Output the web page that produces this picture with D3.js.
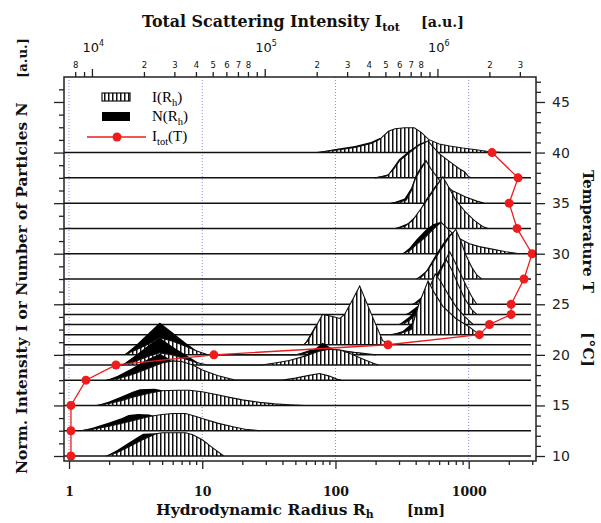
<!DOCTYPE html>
<html>
<head>
<meta charset="utf-8">
<script src="https://cdn.jsdelivr.net/npm/d3@7"></script>
<style>
  body { margin: 0; background: #fff; }
  svg { display: block; }
</style>
</head>
<body>
<div id="chart"></div>
<script>
// Step 1: data
// temperatures of the runs (right axis) and total scattering intensity (top axis)
var temps = [10, 12.5, 15, 17.5, 19, 20, 21, 22, 23, 24, 25, 27.5, 30, 32.5, 35, 37.5, 40];
var itot = [7560, 7560, 7560, 9230, 13770, 50800, 517000, 1750000, 2000000, 2670000, 2670000,
            3170000, 3530000, 2890000, 2600000, 2930000, 2070000];

// I(Rh) and N(Rh), pairs of [Rh nm, height a.u.]
var i10 = [[1.9,0],[2.3,0.35],[2.8,0.9],[3.5,1.55],[4.5,2.2],[5,2.3],[6,2.3],[7.5,2.3],[8.5,2.1],[10,1.6],[12,0.8],[14.5,0]];
var n10 = [[1.9,0],[2.3,0.6],[2.8,1.3],[3.3,1.9],[3.6,2.2],[4.5,2.25],[5,1.8],[6,1.0],[8,0.3],[10,0]];
var i12 = [[1.2,0],[1.5,0.15],[2,0.45],[2.5,0.75],[3,1.0],[4,1.4],[5,1.6],[6,1.7],[7.5,1.7],[9,1.4],[10,1.2],[13,0.75],[17,0.4],[21,0.15],[27,0]];
var n12 = [[1.2,0],[1.5,0.3],[2,0.8],[2.5,1.25],[2.8,1.55],[3.3,1.65],[4,1.6],[4.5,1.4],[5.5,0.9],[7,0.4],[9,0]];
var i15 = [[1.6,0],[2,0.2],[2.5,0.5],[3,0.8],[4,1.2],[5,1.45],[6.5,1.5],[8,1.5],[10,1.35],[13,1.05],[16,0.8],[20,0.55],[27,0.3],[35,0.15],[45,0.07],[59,0]];
var n15 = [[1.6,0],[2,0.4],[2.5,0.9],[3,1.35],[3.4,1.6],[4.4,1.65],[5,1.5],[6,1.0],[8,0.35],[10,0]];
var i17 = [[1.9,0],[2.3,0.15],[3,0.55],[4,1.2],[5,1.7],[6,1.9],[7,1.85],[8.5,1.5],[10,1.0],[13,0.45],[17.6,0],[40,0],[50,0.2],[62,0.45],[76,0.66],[90,0.4],[102,0.1],[110,0]];
var n17 = [[1.9,0],[2.3,0.4],[3,1.2],[3.8,2.0],[4.8,2.6],[5.5,2.2],[6.5,1.4],[8,0.6],[10,0]];
var i19 = [[2.5,0],[3.2,0.4],[4,0.9],[4.8,1.2],[6,1.0],[7.5,0.6],[9,0.25],[11,0],[28,0],[35,0.2],[45,0.45],[60,0.9],[75,1.35],[90,1.55],[110,1.45],[130,1.1],[160,0.6],[190,0.2],[210,0]];
var n19 = [[2.5,0],[3.2,1.0],[4,2.0],[4.8,2.7],[6,1.8],[7.5,1.0],[10,0],[45,0],[60,1.0],[72,1.7],[80,2.2],[95,1.6],[115,1.1],[140,0.5],[170,0]];
var i20 = [[2.6,0],[3.2,0.5],[4,1.1],[4.8,1.7],[6,1.35],[7.5,0.85],[9,0.4],[11,0],[50,0],[65,0.25],[80,0.4],[110,0.35],[150,0.2],[200,0]];
var n20 = [[2.6,0],[3.2,1.0],[4,2.2],[4.8,3.2],[6,2.2],[7.5,1.2],[10,0],[50,0],[65,0.5],[80,0.7],[110,0.5],[150,0.2],[190,0]];
var i21 = [[58,0],[62,0.4],[70,1.6],[80,3.0],[95,2.8],[108,2.6],[117,3.0],[135,4.5],[152,5.8],[185,3.1],[226,0.4],[260,0]];
var n21 = [[58,0],[62,0.6],[70,1.8],[80,2.6],[95,1.8],[120,0.8],[160,0]];
var i22 = [[262,0],[310,0.15],[370,0.5],[425,3.1],[495,5.3],[560,4.0],[640,2.8],[800,1.6],[1000,0.8],[1150,0.2],[1250,0]];
var n22 = [[262,0],[320,0.35],[380,1.2],[430,3.4],[495,5.0],[560,3.0],[650,1.0],[750,0]];
var i23 = [[300,0],[350,0.3],[410,1.1],[480,2.8],[560,5.0],[620,4.2],[700,3.0],[800,1.8],[930,0.8],[1080,0]];
var n23 = [[300,0],[360,0.8],[420,1.8],[490,3.4],[560,4.6],[620,3.2],[720,1.2],[820,0]];
var i24 = [[340,0],[400,0.3],[460,1.2],[540,2.8],[620,4.4],[680,5.4],[740,4.5],[830,3.0],[930,1.6],[1050,0.5],[1150,0]];
var n24 = [[340,0],[420,0.9],[500,2.2],[580,3.6],[650,4.8],[690,5.0],[760,3.0],[870,1.0],[950,0]];
var i25 = [[380,0],[430,0.3],[480,1.0],[560,2.3],[640,3.8],[720,5.2],[780,4.3],[870,3.0],[960,1.8],[1050,0.8],[1150,0]];
var n25 = [[380,0],[450,0.8],[520,2.0],[600,3.4],[680,4.6],[720,5.0],[800,3.0],[900,1.0],[1000,0]];
var i27 = [[405,0],[450,0.3],[500,1.0],[560,2.0],[640,3.2],[720,4.2],[800,4.9],[870,3.8],[950,2.4],[1050,1.2],[1150,0.4],[1250,0]];
var n27 = [[405,0],[480,0.8],[560,2.3],[640,3.5],[720,4.4],[790,4.8],[850,3.5],[950,1.5],[1050,0]];
var i30 = [[318,0],[360,0.3],[405,0.9],[470,1.6],[540,2.4],[620,3.1],[680,2.6],[800,1.7],[1000,1.0],[1200,0.7],[1500,0.45],[1900,0.2],[2400,0]];
var n30 = [[318,0],[360,0.6],[405,1.4],[470,2.3],[540,2.9],[620,3.15],[700,2.0],[850,0.8],[1000,0]];
var i32 = [[280,0],[330,0.2],[380,0.8],[430,1.8],[480,2.7],[560,4.0],[640,5.1],[700,4.2],[800,2.8],[950,1.6],[1100,0.8],[1270,0.2],[1400,0]];
var n32 = [[280,0],[350,0.5],[420,1.5],[480,2.9],[560,4.2],[630,5.0],[700,3.5],[800,1.5],[950,0]];
var i35 = [[262,0],[300,0.1],[340,0.3],[370,1.2],[400,2.5],[440,3.4],[478,4.2],[520,3.4],[600,2.3],[750,1.25],[950,0.6],[1150,0.2],[1300,0]];
var n35 = [[262,0],[330,0.45],[370,1.5],[400,2.75],[440,3.65],[475,4.25],[520,3.0],[600,1.2],[700,0]];
var i37 = [[197,0],[245,0.2],[275,0.9],[303,1.7],[360,2.5],[420,3.2],[495,3.65],[520,3.3],[600,2.4],[720,1.6],[850,0.9],[930,0.6],[1000,0.1],[1050,0]];
var n37 = [[197,0],[250,0.35],[300,1.85],[360,2.7],[430,3.4],[480,3.6],[520,2.5],[600,0.8],[700,0]];
var i40 = [[72,0],[100,0.23],[140,0.5],[185,0.9],[215,1.3],[250,2.1],[280,2.35],[330,2.45],[390,2.45],[440,2.0],[500,1.3],[600,0.85],[720,0.65],[900,0.45],[1100,0.3],[1400,0.1],[1800,0]];
var n40 = [[72,0],[100,0.35],[140,0.65],[185,1.05],[215,1.45],[240,0.8],[270,0]];

var iRuns = [i10, i12, i15, i17, i19, i20, i21, i22, i23, i24, i25, i27, i30, i32, i35, i37, i40];
var nRuns = [n10, n12, n15, n17, n19, n20, n21, n22, n23, n24, n25, n27, n30, n32, n35, n37, n40];

// tick values
var rhMajor = [1, 10, 100, 1000];
var rhMinor = [2,3,4,5,6,7,8,9, 20,30,40,50,60,70,80,90, 200,300,400,500,600,700,800,900, 2000,3000];
var itotMajor = [1e4, 1e5, 1e6];
var itotLabeled = [8e3, 2e4,3e4,4e4,5e4,6e4,7e4,8e4, 2e5,3e5,4e5,5e5,6e5,7e5,8e5, 2e6,3e6];
var itotPlain = [9e3, 9e4, 9e5];
var tempMajor = [10, 15, 20, 25, 30, 35, 40, 45];

// Step 2: workspace
var svgWidth = 601, svgHeight = 523;
var plot = {left: 64, right: 536, top: 77, bottom: 461};
var serif = "'Liberation Serif', 'Times New Roman', serif";
var heavy = "'DejaVu Serif', Georgia, serif";
var sans = "'DejaVu Sans', Verdana, sans-serif";
var red = "#ee1c1c";

var svg = d3.select("#chart").append("svg")
  .attr("width", svgWidth)
  .attr("height", svgHeight);

// scales
var x = d3.scaleLog().domain([0.917, 3200]).range([plot.left, plot.right]);
var xTop = d3.scaleLog().domain([6890, 3.72e6]).range([plot.left, plot.right]);
var y = d3.scaleLinear().domain([9.506, 47.47]).range([plot.bottom, plot.top]);

// stripes for I(Rh)
var pat = svg.append("defs").append("pattern")
  .attr("id", "hatch")
  .attr("patternUnits", "userSpaceOnUse")
  .attr("width", 4).attr("height", 8);
pat.append("rect").attr("width", 4).attr("height", 8).attr("fill", "#fff");
pat.append("rect").attr("width", 1.5).attr("height", 8).attr("fill", "#111");

// dotted grid at decades
svg.append("g").selectAll("line")
  .data(rhMajor)
  .enter().append("line")
  .attr("x1", d => x(d)).attr("x2", d => x(d))
  .attr("y1", plot.top).attr("y2", plot.bottom)
  .attr("stroke", "#8a8ae6")
  .attr("stroke-width", 1)
  .attr("stroke-dasharray", "1,2");

// Step 3: the stacked distributions, top run first so lower runs sit in front
var runs = temps.map((t, k) => ({t: t, I: iRuns[k], N: nRuns[k]})).reverse();
var curves = svg.append("g");

runs.forEach(r => {
  var area = d3.area()
    .x(d => x(d[0]))
    .y0(y(r.t))
    .y1(d => y(r.t + d[1]));
  var top = d3.line()
    .x(d => x(d[0]))
    .y(d => y(r.t + d[1]));
  var g = curves.append("g");
  g.append("path").datum(r.N).attr("d", area).attr("fill", "#000");
  g.append("path").datum(r.I).attr("d", area).attr("fill", "url(#hatch)");
  g.append("path").datum(r.I).attr("d", top)
    .attr("fill", "none").attr("stroke", "#111").attr("stroke-width", 1.1);
  g.append("line")
    .attr("x1", plot.left).attr("x2", 531)
    .attr("y1", y(r.t)).attr("y2", y(r.t))
    .attr("stroke", "#111").attr("stroke-width", 1.5);
});

// Step 4: total intensity vs temperature
var itotData = temps.map((t, k) => [itot[k], t]);
svg.append("path").datum(itotData)
  .attr("d", d3.line().x(d => xTop(d[0])).y(d => y(d[1])))
  .attr("fill", "none").attr("stroke", red).attr("stroke-width", 1.3);
svg.append("g").selectAll("circle")
  .data(itotData)
  .enter().append("circle")
  .attr("cx", d => xTop(d[0]))
  .attr("cy", d => y(d[1]))
  .attr("r", 4.5)
  .attr("fill", red);

// Step 5: axes and frame
svg.append("rect")
  .attr("x", plot.left).attr("y", plot.top)
  .attr("width", plot.right - plot.left).attr("height", plot.bottom - plot.top)
  .attr("fill", "none").attr("stroke", "#222").attr("stroke-width", 1.5);

function tidy(g) {
  g.select(".domain").remove();
  g.selectAll(".tick line").attr("stroke", "#222").attr("stroke-width", 1.3);
}

// bottom
svg.append("g")
  .attr("transform", `translate(0, ${plot.bottom})`)
  .call(d3.axisBottom(x).tickValues(rhMajor).tickSize(8).tickPadding(18).tickFormat(d3.format("d")))
  .call(tidy)
  .selectAll("text")
  .attr("font-family", heavy).attr("font-weight", "bold").attr("font-size", 12.5).attr("fill", "#111");
svg.append("g")
  .attr("transform", `translate(0, ${plot.bottom})`)
  .call(d3.axisBottom(x).tickValues(rhMinor).tickSize(4).tickFormat(""))
  .call(tidy);

// top
var topMajor = svg.append("g")
  .attr("transform", `translate(0, ${plot.top})`)
  .call(d3.axisTop(xTop).tickValues(itotMajor).tickSize(8).tickPadding(17).tickFormat(""))
  .call(tidy);
topMajor.selectAll(".tick text").each(function(d) {
  var t = d3.select(this)
    .attr("font-family", sans).attr("font-size", 13).attr("fill", "#111")
    .attr("text-anchor", "start").attr("dx", -10);
  t.append("tspan").text("10");
  t.append("tspan").attr("dy", -6).attr("font-size", 8).text(Math.round(Math.log10(d)));
});
svg.append("g")
  .attr("transform", `translate(0, ${plot.top})`)
  .call(d3.axisTop(xTop).tickValues(itotLabeled).tickSize(5).tickPadding(4)
    .tickFormat(d => String(Math.round(d / Math.pow(10, Math.floor(Math.log10(d)))))))
  .call(tidy)
  .selectAll("text")
  .attr("font-family", sans).attr("font-size", 8.5).attr("fill", "#111");
svg.append("g")
  .attr("transform", `translate(0, ${plot.top})`)
  .call(d3.axisTop(xTop).tickValues(itotPlain).tickSize(5).tickFormat(""))
  .call(tidy);

// right, temperature
svg.append("g")
  .attr("transform", `translate(${plot.right}, 0)`)
  .call(d3.axisRight(y).tickValues(tempMajor).tickSize(9).tickPadding(7))
  .call(tidy)
  .selectAll("text")
  .attr("font-family", sans).attr("font-size", 14).attr("fill", "#222");
svg.append("g")
  .attr("transform", `translate(${plot.right}, 0)`)
  .call(d3.axisRight(y).tickValues(d3.range(10, 48, 1).filter(d => d % 5 != 0)).tickSize(5).tickFormat(""))
  .call(tidy);

// left, intensity (no labels)
svg.append("g")
  .attr("transform", `translate(${plot.left}, 0)`)
  .call(d3.axisLeft(y).tickValues(d3.range(10, 47.3, 1.25).filter(d => d % 5 == 0)).tickSize(10).tickFormat(""))
  .call(tidy);
svg.append("g")
  .attr("transform", `translate(${plot.left}, 0)`)
  .call(d3.axisLeft(y).tickValues(d3.range(10, 47.3, 1.25).filter(d => d % 5 != 0)).tickSize(5).tickFormat(""))
  .call(tidy);

// Step 6: titles
function sub(t, s, dy) {
  t.append("tspan").attr("font-size", "0.7em").attr("dy", dy || 4).text(s);
  return t;
}
// scale a title so it spans the same width as in the picture
function fit(t, w) {
  var len = t.node().getComputedTextLength();
  t.attr("font-size", +t.attr("font-size") * w / len);
  return t;
}
function title(tr) {
  return svg.append("text")
    .attr("transform", tr)
    .attr("font-family", heavy).attr("font-weight", "bold").attr("font-size", 16)
    .attr("fill", "#111");
}

var tt = title("translate(142, 27)");
tt.append("tspan").text("Total Scattering Intensity I");
sub(tt, "tot");
fit(tt, 258);
fit(title("translate(421, 27)").text("[a.u.]"), 43);

var bt = title("translate(156, 515)");
bt.append("tspan").text("Hydrodynamic Radius R");
sub(bt, "h", 2.5);
fit(bt, 218);
fit(title("translate(407, 515)").text("[nm]"), 38);

fit(title("translate(27, 474) rotate(-90)").text("Norm. Intensity I or Number of Particles N"), 372);
fit(title("translate(27, 78) rotate(-90)").text("[a.u.]"), 40);

fit(title("translate(583, 170) rotate(90)").text("Temperature T"), 123);
fit(title("translate(583, 332) rotate(90)").text("[°C]"), 35);

// Step 7: legend
var leg = svg.append("g");
leg.append("rect").attr("x", 102).attr("y", 93).attr("width", 28).attr("height", 8)
  .attr("fill", "url(#hatch)").attr("stroke", "#111").attr("stroke-width", 1.2);
leg.append("rect").attr("x", 102).attr("y", 112).attr("width", 28).attr("height", 9)
  .attr("fill", "#000");
leg.append("line").attr("x1", 87).attr("x2", 146).attr("y1", 137).attr("y2", 137)
  .attr("stroke", red).attr("stroke-width", 1.3);
leg.append("circle").attr("cx", 117).attr("cy", 137).attr("r", 4.5).attr("fill", red);

var l1 = leg.append("text").attr("x", 152).attr("y", 102)
  .attr("font-family", serif).attr("font-size", 15);
l1.append("tspan").text("I(R");
sub(l1, "h");
l1.append("tspan").attr("dy", -4).text(")");
var l2 = leg.append("text").attr("x", 152).attr("y", 121)
  .attr("font-family", serif).attr("font-size", 15);
l2.append("tspan").text("N(R");
sub(l2, "h");
l2.append("tspan").attr("dy", -4).text(")");
var l3 = leg.append("text").attr("x", 152).attr("y", 141)
  .attr("font-family", serif).attr("font-size", 15);
l3.append("tspan").text("I");
sub(l3, "tot");
l3.append("tspan").attr("dy", -4).text("(T)");
</script>
</body>
</html>
